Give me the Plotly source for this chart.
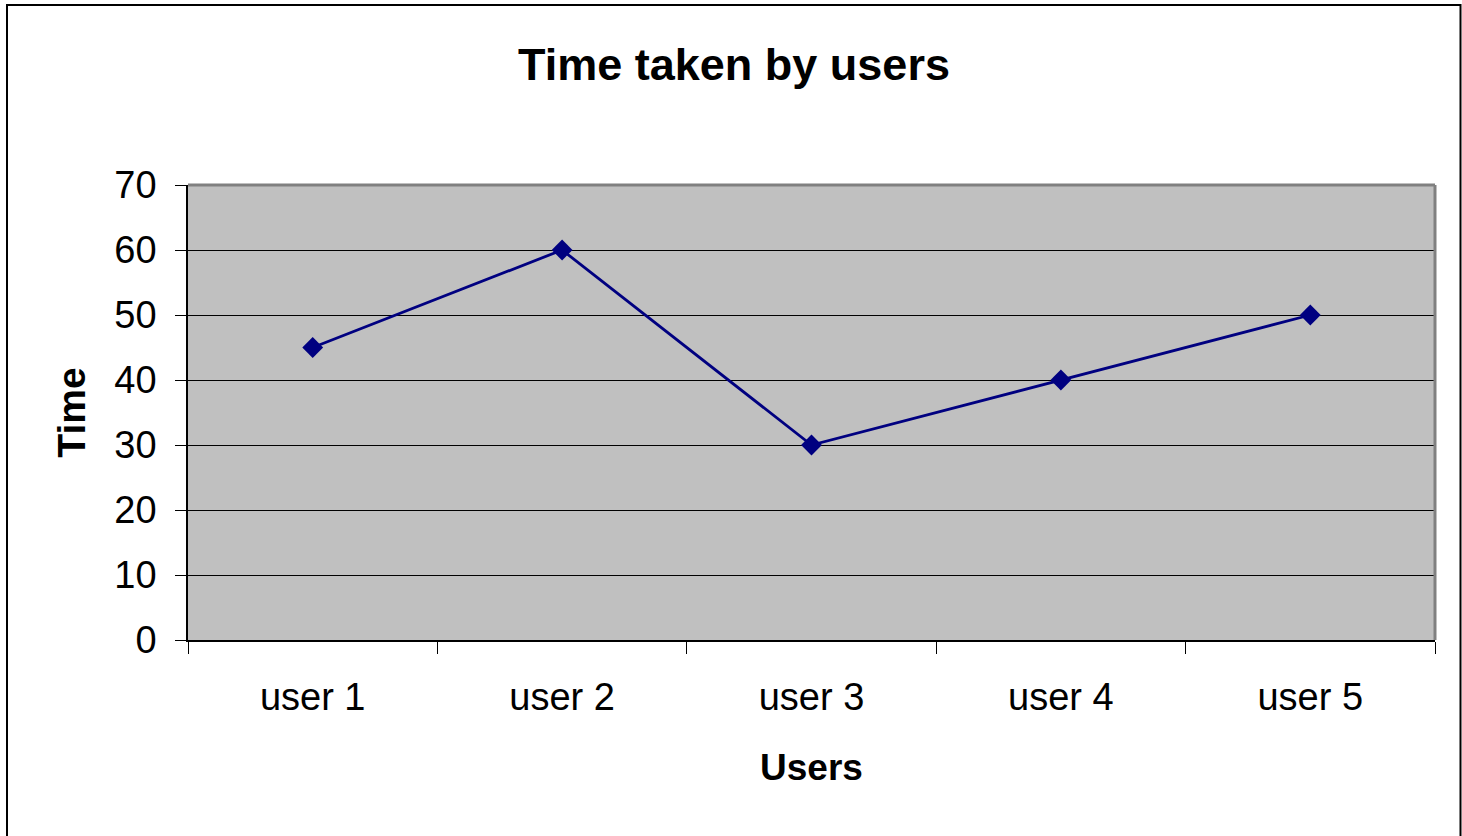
import plotly.graph_objects as go

categories = ["user 1", "user 2", "user 3", "user 4", "user 5"]
times = [45, 60, 30, 40, 50]
y_ticks = [0, 10, 20, 30, 40, 50, 60, 70]

W, H = 1462, 836
L, R, T, B = 188, 1435, 185, 640
pw, ph = R - L, B - T

font = "Liberation Sans, Arial, sans-serif"

fig = go.Figure()
fig.add_trace(go.Scatter(
    x=categories, y=times, mode="lines+markers",
    line=dict(color="#000080", width=2.8),
    marker=dict(symbol="diamond", size=16, color="#000080"),
    showlegend=False, cliponaxis=False,
))

def px_x(x):
    return (x - L) / pw

def px_y(y):
    return (B - y) / ph

fig.update_layout(
    width=W, height=H,
    margin=dict(l=L, r=W - R, t=T, b=H - B, pad=0),
    paper_bgcolor="white",
    plot_bgcolor="#c0c0c0",
    font=dict(family=font, color="black"),
    title=dict(text="<b>Time taken by users</b>", x=734 / W, xanchor="center",
               y=1 - 64 / H, yanchor="middle", yref="container",
               font=dict(size=45, family=font, color="black")),
    xaxis=dict(
        type="category", tickson="boundaries", ticks="outside", ticklen=12,
        tickcolor="black", tickwidth=1, showline=True, linecolor="black", linewidth=1.5,
        showgrid=False, zeroline=False, tickfont=dict(size=38, family=font),
        ticklabelstandoff=23,
        range=[-0.5, 4.5],
        title=dict(text="<b>Users</b>", font=dict(size=37, family=font), standoff=37),
    ),
    yaxis=dict(
        range=[0, 70], tickvals=y_ticks, ticks="outside", ticklen=11,
        tickcolor="black", tickwidth=1, showline=True, linecolor="black", linewidth=1.5,
        showgrid=True, gridcolor="black", gridwidth=1, zeroline=False,
        tickfont=dict(size=38, family=font),
        ticklabelstandoff=11,
        title=dict(text="<b>Time</b>", font=dict(size=39, family=font), standoff=17),
    ),
    shapes=[
        dict(type="line", xref="paper", yref="paper", x0=0, x1=1, y0=1, y1=1,
             line=dict(color="#808080", width=3)),
        dict(type="line", xref="paper", yref="paper", x0=1, x1=1, y0=0, y1=1,
             line=dict(color="#808080", width=3)),
        dict(type="rect", xref="paper", yref="paper",
             x0=px_x(7), x1=px_x(1460.5), y0=px_y(5), y1=px_y(845),
             line=dict(color="black", width=2), fillcolor="rgba(0,0,0,0)", layer="below"),
    ],
)

fig.write_html("out.html", config={"displayModeBar": False},
               post_script="document.body.style.margin='0';")
